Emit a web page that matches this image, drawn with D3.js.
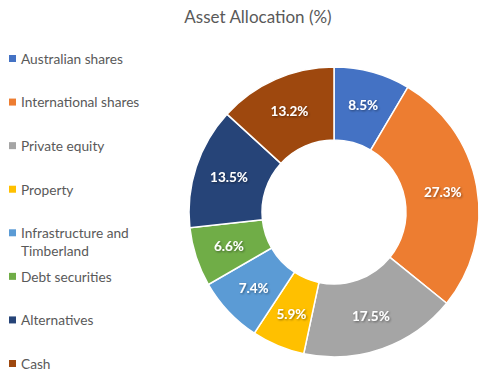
<!DOCTYPE html>
<html lang="en">
<head>
    <meta charset="UTF-8">
    <title>Asset Allocation</title>
    <script src="https://d3js.org/d3.v7.min.js"></script>
    <style>
        body { margin: 0; background: #fff; }
        text { font-family: Lato, "Open Sans", sans-serif; }
    </style>
</head>
<body>
    <div id="chart"></div>
    <script>
        // data
        const categories = ["Australian shares", "International shares", "Private equity", "Property",
            "Infrastructure and Timberland", "Debt securities", "Alternatives", "Cash"];
        const values = [8.5, 27.3, 17.5, 5.9, 7.4, 6.6, 13.5, 13.2];
        const legendLines = [["Australian shares"], ["International shares"], ["Private equity"], ["Property"],
            ["Infrastructure and", "Timberland"], ["Debt securities"], ["Alternatives"], ["Cash"]];
        const colors = ["#4472C4", "#ED7D31", "#A5A5A5", "#FFC000", "#5B9BD5", "#70AD47", "#264478", "#9E480E"];

        const width = 493, height = 380;
        const cx = 334, cy = 212, outerR = 145, innerR = 72;

        const svg = d3.select("#chart")
          .append("svg")
            .attr("width", width)
            .attr("height", height);

        // drop shadow for the slice labels
        const defs = svg.append("defs");
        const f = defs.append("filter").attr("id", "shadow")
            .attr("x", "-20%").attr("y", "-20%").attr("width", "140%").attr("height", "140%");
        f.append("feDropShadow").attr("dx", 1).attr("dy", 1).attr("stdDeviation", 0.8)
            .attr("flood-color", "#000").attr("flood-opacity", 0.45);

        svg.append("text")
            .attr("x", 258)
            .attr("y", 23)
            .attr("text-anchor", "middle")
            .style("font-size", "17px")
            .style("fill", "#595959")
            .text("Asset Allocation (%)");

        const color = d3.scaleOrdinal().domain(categories).range(colors);

        const pie = d3.pie().sort(null).value(d => d.value);
        const data = categories.map((c, i) => ({ name: c, value: values[i] }));
        const arc = d3.arc().innerRadius(innerR).outerRadius(outerR);
        const labelArc = d3.arc().innerRadius((innerR + outerR) / 2 + 2).outerRadius((innerR + outerR) / 2 + 2);

        const g = svg.append("g").attr("transform", `translate(${cx},${cy})`);

        g.selectAll("path")
          .data(pie(data))
          .join("path")
            .attr("d", arc)
            .attr("fill", d => color(d.data.name))
            .attr("stroke", "#fff")
            .attr("stroke-width", 1.5);

        g.selectAll("text.lbl")
          .data(pie(data))
          .join("text")
            .attr("class", "lbl")
            .attr("transform", d => `translate(${labelArc.centroid(d)})`)
            .attr("text-anchor", "middle")
            .attr("dy", "0.35em")
            .attr("filter", "url(#shadow)")
            .style("font-size", "13.5px")
            .style("font-weight", "bold")
            .style("fill", "#fff")
            .text(d => d.data.value.toFixed(1) + "%");

        // legend
        const legendY = d3.scalePoint().domain(categories).range([59, 364]);
        const leg = svg.append("g").selectAll("g")
          .data(categories)
          .join("g")
            .attr("transform", d => `translate(0,${legendY(d)})`);

        leg.append("rect")
            .attr("x", 9)
            .attr("y", -4)
            .attr("width", 7)
            .attr("height", 7)
            .attr("fill", d => color(d));

        leg.append("text")
            .attr("x", 21)
            .attr("y", 0)
            .style("font-size", "13.7px")
            .style("fill", "#595959")
            .selectAll("tspan")
            .data((d, i) => legendLines[i])
            .join("tspan")
              .attr("x", 21)
              .attr("dy", (d, i) => i === 0 ? "0.35em" : "1.3em")
              .text(d => d);
    </script>
</body>
</html>
